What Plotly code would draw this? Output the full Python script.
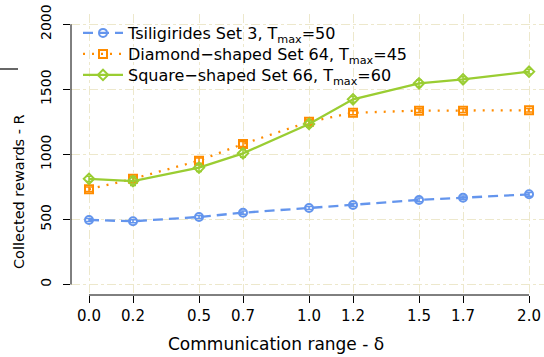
import plotly.graph_objects as go

x_vals = [0.0, 0.2, 0.5, 0.7, 1.0, 1.2, 1.5, 1.7, 2.0]
x_ticklabels = ["0.0", "0.2", "0.5", "0.7", "1.0", "1.2", "1.5", "1.7", "2.0"]
y_ticks = [0, 500, 1000, 1500, 2000]

tsil_vals = [496, 486, 519, 552, 588, 611, 650, 667, 693]
tsil_err = [12, 12, 12, 12, 12, 12, 14, 14, 14]
diam_vals = [732, 812, 952, 1080, 1250, 1320, 1336, 1336, 1339]
diam_err = [18, 20, 20, 20, 18, 16, 14, 14, 14]
sq_vals = [812, 795, 898, 1008, 1234, 1423, 1546, 1577, 1636]
sq_err = [20, 35, 30, 30, 25, 22, 25, 20, 18]

names = ["Tsiligirides Set 3, T<sub>max</sub>=50",
         "Diamond−shaped Set 64, T<sub>max</sub>=45",
         "Square−shaped Set 66, T<sub>max</sub>=60"]
colors = ["#6495ED", "#FF8C00", "#9ACD32"]
dashes = ["10px,6px", "2px,7px", "solid"]
symbols = ["circle-open", "square-open", "diamond-open"]
series = [(tsil_vals, tsil_err), (diam_vals, diam_err), (sq_vals, sq_err)]
legend_ids = ["legend", "legend2", "legend3"]

W, H = 544, 357
L, R, T, B = 71, 0, 14, 62
PW, PH = W - L - R, H - T - B

fig = go.Figure()
for (vals, err), name, col, dsh, sym, lg in zip(series, names, colors, dashes, symbols, legend_ids):
    fig.add_trace(go.Scatter(
        x=x_vals, y=vals, name=name, mode="lines+markers", legend=lg,
        line=dict(color=col, width=2.3, dash=dsh),
        marker=dict(symbol=sym, size=8, color=col, line=dict(color=col, width=2)),
        error_y=dict(type="data", array=err, color=col, thickness=1.5, width=3),
    ))

row_centers = [33, 54, 75]
legends = {}
for lg, yc in zip(legend_ids, row_centers):
    legends[lg] = dict(x=(78 - L) / PW, y=(H - B - yc) / PH, xanchor="left", yanchor="middle",
                       bgcolor="rgba(0,0,0,0)", font=dict(size=16, family="DejaVu Sans"),
                       itemwidth=40)

fig.update_layout(
    width=W, height=H,
    margin=dict(l=L, r=R, t=T, b=B, autoexpand=False),
    plot_bgcolor="white", paper_bgcolor="white",
    font=dict(family="DejaVu Sans", color="black", size=15),
    showlegend=True,
    **legends,
)
fig.update_xaxes(
    range=[-0.0818, 2.068], tickmode="array", tickvals=x_vals, ticktext=x_ticklabels,
    showline=False, zeroline=False, ticks="outside", ticklen=7, tickcolor="black",
    showgrid=True, gridcolor="#EDE8CC", griddash="dashdot", gridwidth=1,
    tickfont=dict(size=15), automargin=False,
)
fig.update_yaxes(
    range=[-80.7, 2079], tickmode="array", tickvals=y_ticks,
    showline=False, zeroline=False, ticks="outside", ticklen=7, tickcolor="black",
    showgrid=True, gridcolor="#EDE8CC", griddash="dashdot", gridwidth=1,
    tickangle=-90, tickfont=dict(size=14), ticklabelstandoff=6, automargin=False,
)
# R-style axis lines spanning first to last tick
fig.add_shape(type="line", xref="x", yref="paper", x0=x_vals[0], x1=x_vals[-1], y0=0, y1=0,
              line=dict(color="black", width=1))
fig.add_shape(type="line", xref="paper", yref="y", x0=0, x1=0, y0=y_ticks[0], y1=y_ticks[-1],
              line=dict(color="black", width=1))
# small stroke above the y title
fig.add_shape(type="line", xref="paper", yref="paper",
              x0=(0 - L) / PW, x1=(18 - L) / PW,
              y0=(H - B - 69) / PH, y1=(H - B - 69) / PH,
              line=dict(color="black", width=1.2))
fig.add_annotation(text="Communication range - δ", xref="paper", yref="paper",
                   x=(276 - L) / PW, y=(H - B - 344) / PH,
                   showarrow=False, xanchor="center", yanchor="middle", font=dict(size=17))
fig.add_annotation(text="Collected rewards - R", xref="paper", yref="paper",
                   x=(19 - L) / PW, y=(H - B - 192) / PH, textangle=-90,
                   showarrow=False, xanchor="center", yanchor="middle", font=dict(size=14.5))

fig.write_html("out.html", config={"displayModeBar": False},
               post_script="document.body.style.margin='0';")
